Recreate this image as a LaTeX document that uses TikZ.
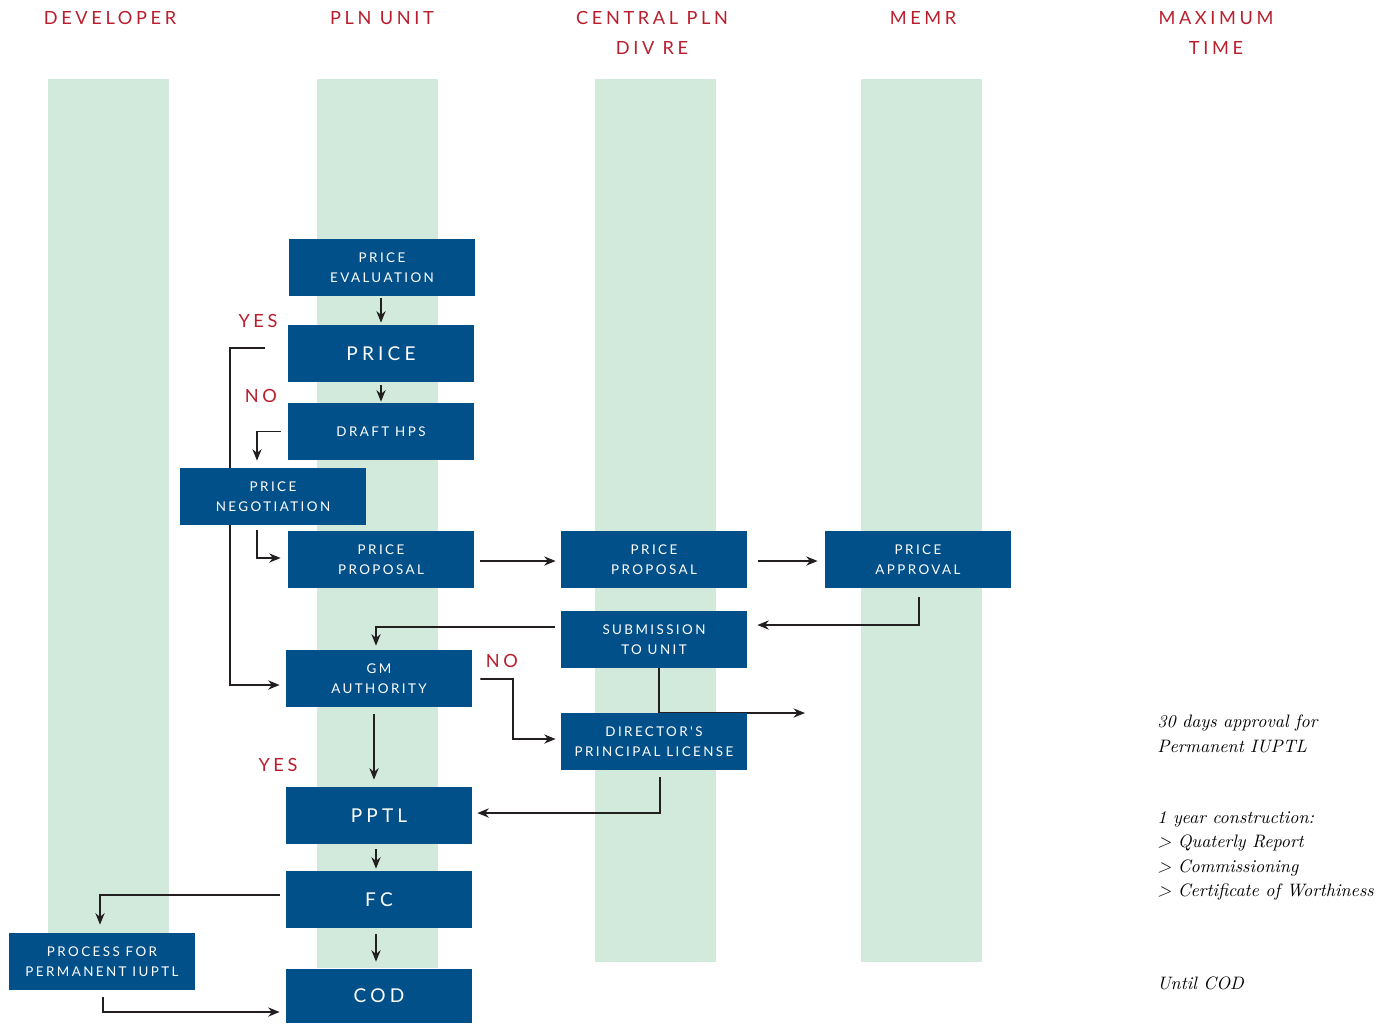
\documentclass[tikz,border=0pt]{standalone}
\usepackage{fontspec}
\usetikzlibrary{arrows.meta,calc}
\newfontfamily\hdfont[LetterSpace=20]{Lato}
\newfontfamily\bxfont[LetterSpace=18]{Lato}
\newfontfamily\bigfont[LetterSpace=22]{Lato}
\definecolor{boxblue}{HTML}{02508A}
\definecolor{hdred}{HTML}{B91E2D}
\definecolor{band}{HTML}{D2EADC}
\definecolor{ink}{HTML}{231F20}
\pgfdeclarelayer{back}
\pgfsetlayers{back,main}
\tikzset{
  bx/.style={fill=boxblue,text=white,inner sep=0pt,minimum width=105.46pt,minimum height=32.32pt,align=center,font=\bxfont\fontsize{7.6pt}{11.3pt}\selectfont},
  bigbx/.style={bx,font=\bigfont\fontsize{10.8pt}{12pt}\selectfont},
  hd/.style={text=hdred,align=center,font=\hdfont\fontsize{10.3pt}{17pt}\selectfont},
  lbl/.style={text=hdred,font=\hdfont\fontsize{10.3pt}{12pt}\selectfont},
  note/.style={align=left,anchor=west,inner sep=0pt,font=\itshape\fontsize{10.2pt}{13.9pt}\selectfont},
  arr/.style={draw=ink,line width=0.9pt,-{Stealth[length=6.5pt,width=5.2pt]}},
  bandr/.style={fill=band,draw=none}
}
\begin{document}
\begin{tikzpicture}[x=0.567pt,y=-0.567pt]
\useasboundingbox (0,0) rectangle (1391,1023);
% headers
\node[hd] (h1) at (110,18) {DEVELOPER};
\node[hd] (h2) at (382,18) {PLN UNIT};
\node[hd] (h3) at (652,33) {CENTRAL PLN\\DIV RE};
\node[hd] (h4) at (923,18) {MEMR};
\node[hd] (h5) at (1216,33) {MAXIMUM\\TIME};
% boxes
\node[bx] (pe) at (382,267.5) {PRICE\\EVALUATION};
\node[bigbx] (price) at (381,353.5) {PRICE};
\node[bx] (draft) at (381,431.5) {DRAFT HPS};
\node[bx] (neg) at (273,496.5) {PRICE\\NEGOTIATION};
\node[bx] (pp1) at (381,559.5) {PRICE\\PROPOSAL};
\node[bx] (pp2) at (654,559.5) {PRICE\\PROPOSAL};
\node[bx] (pa) at (918,559.5) {PRICE\\APPROVAL};
\node[bx] (sub) at (654,639.5) {SUBMISSION\\TO UNIT};
\node[bx] (gm) at (379,678.5) {GM\\AUTHORITY};
\node[bx] (dir) at (654,741.5) {DIRECTOR'S\\PRINCIPAL LICENSE};
\node[bigbx] (pptl) at (379,815.5) {PPTL};
\node[bigbx] (fc) at (379,899.5) {FC};
\node[bx] (proc) at (102,961.5) {PROCESS FOR\\PERMANENT IUPTL};
\node[bigbx,minimum height=30.6pt] (cod) at (379,996) {COD};
% labels
\node[lbl] (yes1) at (258,321) {YES};
\node[lbl] (no1) at (261,396) {NO};
\node[lbl] (no2) at (502,661) {NO};
\node[lbl] (yes2) at (278,765) {YES};
% notes
\node[note] (n1) at (1157,734) {30 days approval for\\Permanent IUPTL};
\node[note] (n2) at (1157,856) {1 year construction:\\> Quaterly Report\\> Commissioning\\> Certificate of Worthiness};
\node[note] (n3) at (1157,983) {Until COD};
% free-end coordinates
\coordinate (yesS) at (265,348);
\coordinate (dirOut) at (805,713);
\begin{pgfonlayer}{back}
\fill[band] (48,79) rectangle (169,960);
\fill[band] (317,79) rectangle (438,968);
\fill[band] (595,79) rectangle (716,962);
\fill[band] (861,79) rectangle (982,962);
% connectors
\draw[arr] ($(pe.south)+(-1,2)$) -- ($(price.north)+(0,-2)$);
\draw[arr] ($(price.south)+(0,3)$) -- ($(draft.north)+(0,-1)$);
\draw[arr] (yesS) -- (230,348) |- ($(gm.west)+(-6,6.5)$);
\draw[arr] ($(draft.west)+(-7,0)$) -| ($(neg.north)+(-16,-7)$);
\draw[arr] ($(neg.south)+(-16,5)$) |- ($(pp1.west)+(-7,-1.5)$);
\draw[arr] ($(pp1.east)+(6,1.5)$) -- ($(pp2.west)+(-5,1.5)$);
\draw[arr] ($(pp2.east)+(11,1.5)$) -- ($(pa.west)+(-7,1.5)$);
\draw[arr] ($(pa.south)+(1,9)$) |- ($(sub.east)+(10,-14.5)$);
\draw[arr] ($(sub.west)+(-6,-12.5)$) -| ($(gm.north)+(-3,-4)$);
\draw[arr] ($(sub.south)+(5,0)$) |- (dirOut);
\draw[arr] ($(gm.east)+(8,0.5)$) -- (513,679) |- ($(dir.west)+(-5,-2.5)$);
\draw[arr] ($(gm.south)+(-5,7)$) -- ($(pptl.north)+(-5,-7)$);
\draw[arr] ($(dir.south)+(6,7)$) |- ($(pptl.east)+(5,-2.5)$);
\draw[arr] ($(pptl.south)+(-3,5)$) -- ($(fc.north)+(-3,-2)$);
\draw[arr] ($(fc.west)+(-6,-4.5)$) -| ($(proc.north)+(-2,-8)$);
\draw[arr] ($(fc.south)+(-3,6)$) -- ($(cod.north)+(-3,-7)$);
\draw[arr] ($(proc.south)+(1,7)$) |- ($(cod.west)+(-6,16)$);
\end{pgfonlayer}
\end{tikzpicture}
\end{document}
